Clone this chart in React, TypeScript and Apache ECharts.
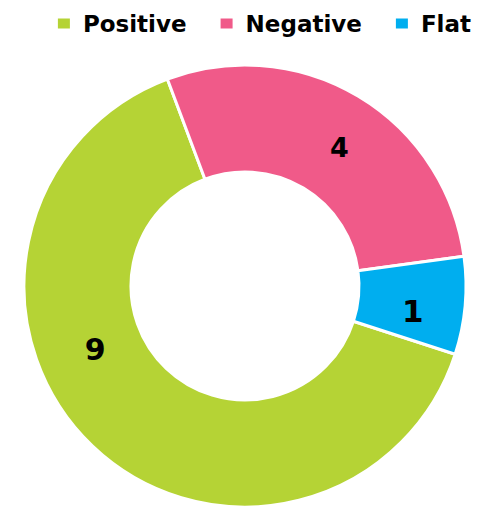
import React, { useEffect, useRef } from "react";
import * as echarts from "echarts";

const categories = ["Positive", "Negative", "Flat"];
const values = [9, 4, 1];
const colors = ["#b5d335", "#f05a89", "#00aeef"];

// label style tweaks (kept separate from the data)
const labelFontSizes: Record<string, number> = { Positive: 30, Negative: 27, Flat: 31 };
const labelOffsets: Record<string, number[]> = { Positive: [-32, -60], Negative: [7, 8], Flat: [-2, 10] };

export default function App() {
  const ref = useRef<HTMLDivElement>(null);
  useEffect(() => {
    if (!ref.current) return;
    const chart = echarts.init(ref.current, null, { renderer: "svg" });
    chart.setOption({
      animation: false,
      color: colors,
      legend: {
        data: categories,
        top: 7,
        right: 7,
        itemWidth: 14,
        itemHeight: 12,
        itemGap: 32,
        icon: "rect",
        textStyle: {
          fontFamily: "DejaVu Sans",
          fontWeight: "bold",
          fontSize: 23,
          color: "#000",
          padding: [0, 0, 0, 7],
        },
      },
      series: [
        {
          type: "pie",
          center: [245, 286],
          radius: [114, 221],
          startAngle: -18,
          clockwise: true,
          avoidLabelOverlap: false,
          itemStyle: { borderColor: "#fff", borderWidth: 3 },
          label: {
            show: true,
            position: "inside",
            formatter: "{c}",
            color: "#000",
            fontFamily: "DejaVu Sans",
            fontWeight: "bold",
          },
          labelLine: { show: false },
          emphasis: { disabled: true },
          data: categories.map((name, i) => ({
            name,
            value: values[i],
            label: { fontSize: labelFontSizes[name], offset: labelOffsets[name] },
          })),
        },
      ],
    });
    return () => chart.dispose();
  }, []);
  return (
    <div
      ref={ref}
      style={{ position: "fixed", left: 0, top: 0, width: 483, height: 507, background: "#fff" }}
    />
  );
}
